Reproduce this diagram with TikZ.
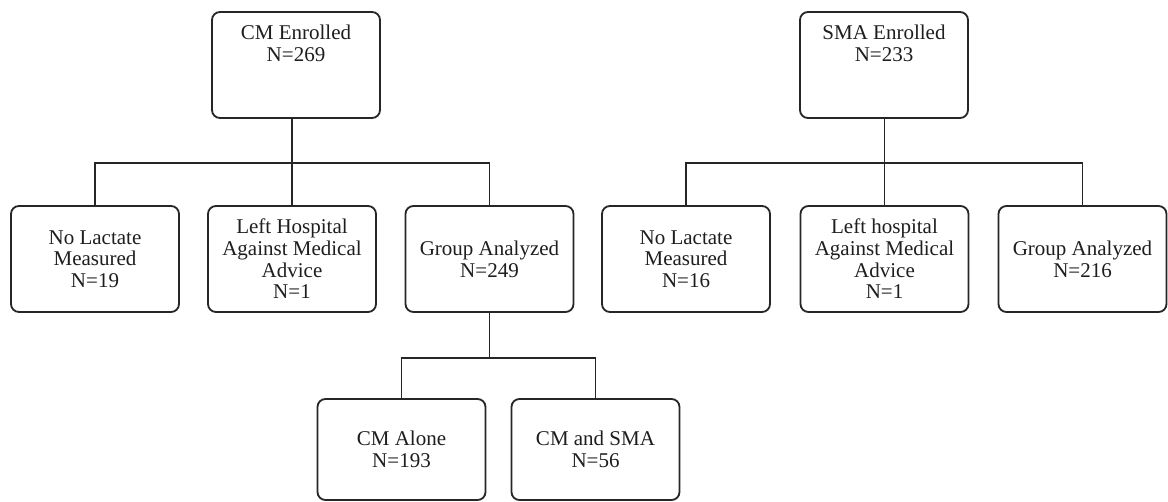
\documentclass[tikz,border=0pt]{standalone}
\usepackage{fontspec}
\setmainfont{Liberation Serif}
\usetikzlibrary{calc}
\definecolor{linec}{HTML}{262626}
\definecolor{textc}{HTML}{1E1E1E}
\begin{document}
\begin{tikzpicture}[x=1pt,y=-1pt,
  box/.style={draw=linec, line width=1.8pt, rounded corners=8pt,
    minimum width=168pt, minimum height=106pt, align=center, inner sep=0pt,
    font=\fontsize{21}{21.7}\selectfont, text=textc},
  conn/.style={draw=linec, line width=1.8pt}]
\useasboundingbox[fill=white] (0,0) rectangle (1168,502);
% top row
\node[box] (cm) at (296,65) {CM Enrolled\\N=269\\\mbox{}\\\mbox{}};
\node[box] (sma) at (884,65) {SMA Enrolled\\N=233\\\mbox{}\\\mbox{}};
% second row
\node[box] (a1) at (95,259) {No Lactate\\Measured\\N=19};
\node[box] (a2) at (292,259) {Left Hospital\\Against Medical\\Advice\\N=1};
\node[box] (a3) at (489.5,259) {Group Analyzed\\N=249};
\node[box] (b1) at (686,259) {No Lactate\\Measured\\N=16};
\node[box] (b2) at (884.5,259) {Left hospital\\Against Medical\\Advice\\N=1};
\node[box] (b3) at (1082.5,259) {Group Analyzed\\N=216};
% third row
\node[box, minimum height=101pt] (c1) at (401.5,449.5) {CM Alone\\N=193};
\node[box, minimum height=101pt] (c2) at (595.5,449.5) {CM and SMA\\N=56};
% connectors CM
\draw[conn] (a2.north) -- (a2.north |- cm.south);
\coordinate (j1) at ($(a2.north)+(0,-42)$);
\draw[conn] (a1.north) |- (a3.north |- j1) -- (a3.north);
% connectors SMA
\draw[conn] (b2.north) -- (b2.north |- sma.south);
\coordinate (j2) at ($(b2.north)+(0,-42)$);
\draw[conn] (b1.north) |- (b3.north |- j2) -- (b3.north);
% connectors group
\draw[conn] (a3.south) -- ++(0,45) coordinate (j3);
\draw[conn] (c1.north) |- (c2.north |- j3) -- (c2.north);
\end{tikzpicture}
\end{document}
